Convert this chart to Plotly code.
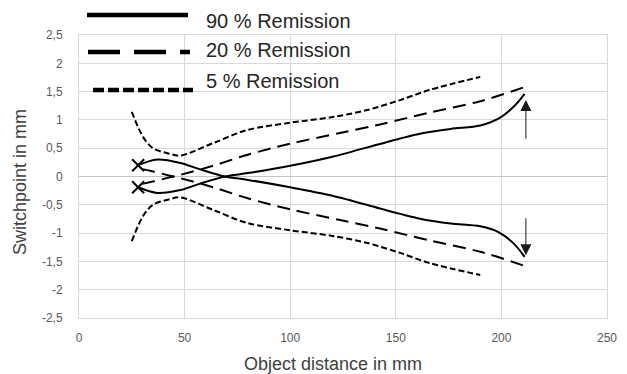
import plotly.graph_objects as go

# ---- data ----
x90 = [28, 37, 48, 57, 69, 80, 100, 120, 142, 152, 162, 176, 190, 199, 206, 211]
y90_up = [-0.19, -0.29, -0.24, -0.13, 0.0, 0.06, 0.19, 0.35, 0.57, 0.67, 0.76, 0.84, 0.90, 1.03, 1.24, 1.46]
y90_dn = [0.20, 0.30, 0.24, 0.13, 0.0, -0.06, -0.19, -0.34, -0.56, -0.66, -0.75, -0.83, -0.88, -0.99, -1.19, -1.42]

x20 = [30, 35, 44.5, 48, 63.5, 79.5, 100, 123.6, 142.5, 166, 190, 211]
y20_up = [-0.13, -0.09, 0.0, 0.03, 0.19, 0.38, 0.58, 0.77, 0.92, 1.13, 1.33, 1.58]
y20_dn = [0.13, 0.09, 0.0, -0.03, -0.19, -0.38, -0.58, -0.77, -0.92, -1.13, -1.33, -1.58]

x5 = [25, 30.3, 35, 43, 48, 63.5, 79.5, 100, 120, 136, 152, 166, 190]
y5_up = [1.14, 0.70, 0.50, 0.40, 0.37, 0.59, 0.82, 0.95, 1.05, 1.17, 1.35, 1.53, 1.76]
y5_dn = [-1.14, -0.70, -0.50, -0.40, -0.37, -0.59, -0.82, -0.95, -1.05, -1.17, -1.35, -1.53, -1.74]

x_ticks = [0, 50, 100, 150, 200, 250]
y_ticks = [2.5, 2, 1.5, 1, 0.5, 0, -0.5, -1, -1.5, -2, -2.5]
y_tick_labels = ["2,5", "2", "1,5", "1", "0,5", "0", "-0,5", "-1", "-1,5", "-2", "-2,5"]

legend_names = ["90 % Remission", "20 % Remission", "5 % Remission"]
x_title = "Object distance in mm"
y_title = "Switchpoint in mm"

# arrows: (x, tail y, tip y)
arrow_x = [211.6, 211.6]
arrow_tail = [0.64, -0.71]
arrow_tip = [1.35, -1.39]

FONT = "Liberation Sans, Arial, sans-serif"
BLACK = "#000000"

fig = go.Figure()

def add_line(x, y, dash):
    fig.add_trace(go.Scatter(x=x, y=y, mode="lines", line=dict(color=BLACK, width=2, dash=dash, shape="spline", smoothing=0.9), showlegend=False, hoverinfo="skip"))

add_line(x90, y90_up, "solid")
add_line(x90, y90_dn, "solid")
add_line(x20, y20_up, "13px,7px")
add_line(x20, y20_dn, "13px,7px")
add_line(x5, y5_up, "6px,3px")
add_line(x5, y5_dn, "6px,3px")

# X markers at the start of the 90 % curves
fig.add_trace(go.Scatter(x=[x90[0], x90[0]], y=[y90_up[0], y90_dn[0]], mode="markers",
                         marker=dict(symbol="x-thin", size=12, line=dict(color=BLACK, width=2)),
                         showlegend=False, hoverinfo="skip"))

# arrows
for ax_, t0, t1 in zip(arrow_x, arrow_tail, arrow_tip):
    fig.add_annotation(x=ax_, y=t1, ax=ax_, ay=t0, axref="x", ayref="y", xref="x", yref="y",
                       text="", showarrow=True, arrowhead=2, arrowsize=2.2, arrowwidth=1,
                       arrowcolor="#1a1a1a", standoff=0, startstandoff=0)

# custom legend (plot area: left 79, right 607, top 35, bottom 318 in px)
L, R, T, B = 79, 607, 35, 318
def px_x(p):
    return (p - L) / (R - L)
def px_y(p):
    return (B - p) / (B - T)

leg = [
    (legend_names[0], "solid", 87, 188, 15, 20.5),
    (legend_names[1], "32px,14px", 88, 190, 52, 50.5),
    (legend_names[2], "11px,4px", 93, 193, 90, 81.5),
]
for name, dash, x0, x1, ly, ty in leg:
    fig.add_shape(type="line", xref="paper", yref="paper", x0=px_x(x0), x1=px_x(x1), y0=px_y(ly), y1=px_y(ly),
                  line=dict(color=BLACK, width=4.5, dash=dash))
    fig.add_annotation(xref="paper", yref="paper", x=px_x(204), y=px_y(ty), text=name, showarrow=False,
                       xanchor="left", yanchor="middle", font=dict(family=FONT, size=20, color="#262626"))

# axis titles
fig.add_annotation(xref="paper", yref="paper", x=px_x(333), y=px_y(364), text=x_title, showarrow=False,
                   xanchor="center", yanchor="middle", font=dict(family=FONT, size=18, color="#404040"))
fig.add_annotation(xref="paper", yref="paper", x=px_x(20), y=px_y(182), text=y_title, showarrow=False,
                   textangle=-90, xanchor="center", yanchor="middle", font=dict(family=FONT, size=18, color="#404040"))

GRID = "#d9d9d9"
fig.update_layout(
    width=627, height=374,
    margin=dict(l=L, r=627 - R, t=T, b=374 - B, autoexpand=False),
    paper_bgcolor="white", plot_bgcolor="white",
    font=dict(family=FONT, color="#595959"),
    showlegend=False,
    xaxis=dict(range=[0, 250], tickvals=x_ticks, showgrid=True, gridcolor=GRID, gridwidth=1,
               zeroline=False, showline=True, linecolor=GRID, mirror=True, automargin=False,
               tickfont=dict(size=12, color="#595959"), ticks="", ticklabelstandoff=9,
               fixedrange=True),
    yaxis=dict(range=[-2.5, 2.5], tickvals=y_ticks, ticktext=y_tick_labels, showgrid=True, gridcolor=GRID,
               gridwidth=1, zeroline=True, zerolinecolor="#c4c4c4", zerolinewidth=1,
               showline=True, linecolor=GRID, mirror=True, automargin=False,
               tickfont=dict(size=12, color="#595959"), ticks="", ticklabelstandoff=13,
               fixedrange=True),
)

fig.write_html("out.html", config={"displayModeBar": False},
               post_script="document.body.style.margin='0';document.body.style.padding='0';document.body.style.overflow='hidden';")
